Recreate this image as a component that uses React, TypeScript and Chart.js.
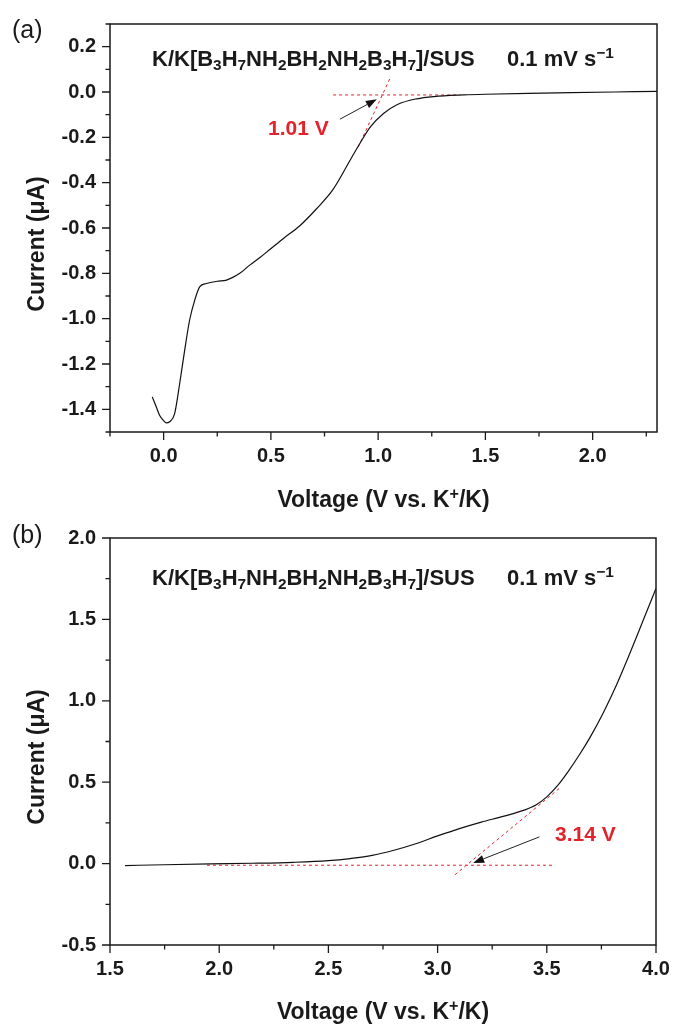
import React, { useEffect, useRef } from 'react';
import { Chart, registerables } from 'chart.js';
Chart.register(...registerables);

// ---------- data: panel (a) ----------
const voltageA = [-0.053, -0.034, -0.019, 0.0, 0.012, 0.028, 0.051, 0.075, 0.098, 0.121, 0.145, 0.168, 0.2, 0.25, 0.293, 0.355, 0.4, 0.449, 0.495, 0.56, 0.635, 0.713, 0.79, 0.87, 0.916, 0.963, 1.025, 1.09, 1.18, 1.26, 1.4, 1.5, 1.7, 1.9, 2.1, 2.3];
const currentA = [-1.345, -1.39, -1.426, -1.45, -1.46, -1.455, -1.42, -1.285, -1.14, -1.007, -0.918, -0.86, -0.845, -0.835, -0.83, -0.8, -0.765, -0.73, -0.695, -0.645, -0.59, -0.515, -0.43, -0.3, -0.225, -0.155, -0.095, -0.055, -0.03, -0.02, -0.013, -0.01, -0.006, -0.003, 0.0, 0.003];
const baselineAX = [0.79, 1.38];
const baselineAY = [-0.013, -0.013];
const tangentAX = [0.907, 1.056];
const tangentAY = [-0.243, 0.062];
const arrowAX = [0.822, 0.994];
const arrowAY = [-0.12, -0.032];
const ticksAX = [0.0, 0.5, 1.0, 1.5, 2.0];
const ticksAY = [-1.4, -1.2, -1.0, -0.8, -0.6, -0.4, -0.2, 0.0, 0.2];
const onsetA = '1.01 V';

// ---------- data: panel (b) ----------
const voltageB = [1.569, 1.75, 1.96, 2.15, 2.34, 2.5, 2.6, 2.7, 2.8, 2.9, 3.0, 3.1, 3.2, 3.3, 3.4, 3.45, 3.5, 3.55, 3.6, 3.65, 3.7, 3.76, 3.82, 3.88, 3.94, 4.0];
const currentB = [-0.012, -0.007, -0.002, 0.002, 0.008, 0.018, 0.031, 0.05, 0.082, 0.122, 0.17, 0.215, 0.255, 0.29, 0.33, 0.36, 0.41, 0.48, 0.57, 0.67, 0.78, 0.93, 1.1, 1.29, 1.49, 1.69];
const baselineBX = [1.944, 3.528];
const baselineBY = [-0.01, -0.01];
const tangentBX = [3.08, 3.56];
const tangentBY = [-0.068, 0.465];
const arrowBX = [3.466, 3.163];
const arrowBY = [0.164, 0.004];
const ticksBX = [1.5, 2.0, 2.5, 3.0, 3.5, 4.0];
const ticksBY = [-0.5, 0.0, 0.5, 1.0, 1.5, 2.0];
const onsetB = '3.14 V';

// ---------- text ----------
type Seg = { t: string; m?: 'sub' | 'sup' };
const titleSegs: Seg[] = [
  { t: 'K/K[B' }, { t: '3', m: 'sub' }, { t: 'H' }, { t: '7', m: 'sub' }, { t: 'NH' }, { t: '2', m: 'sub' },
  { t: 'BH' }, { t: '2', m: 'sub' }, { t: 'NH' }, { t: '2', m: 'sub' }, { t: 'B' }, { t: '3', m: 'sub' },
  { t: 'H' }, { t: '7', m: 'sub' }, { t: ']/SUS' },
];
const rateSegs: Seg[] = [{ t: '0.1 mV s' }, { t: '\u22121', m: 'sup' }];
const xTitleSegs: Seg[] = [{ t: 'Voltage (V vs. K' }, { t: '+', m: 'sup' }, { t: '/K)' }];
const yTitleSegs: Seg[] = [{ t: 'Current (\u03bcA)' }];

const FAMILY = '"Liberation Sans", Arial, Helvetica, sans-serif';
const RED = '#e3232b';
const INK = '#1a1a1a';
const W = 675;

function fontFor(size: number, bold: boolean, m?: string) {
  const s = m ? size * 0.7 : size;
  return `${bold ? 'bold ' : ''}${s}px ${FAMILY}`;
}
function richWidth(ctx: CanvasRenderingContext2D, segs: Seg[], size: number, bold: boolean) {
  let w = 0;
  for (const s of segs) {
    ctx.font = fontFor(size, bold, s.m);
    w += ctx.measureText(s.t).width;
  }
  return w;
}
function drawRich(ctx: CanvasRenderingContext2D, segs: Seg[], x: number, y: number, size: number, bold: boolean) {
  ctx.textBaseline = 'alphabetic';
  ctx.textAlign = 'left';
  let cx = x;
  for (const s of segs) {
    ctx.font = fontFor(size, bold, s.m);
    const dy = s.m === 'sub' ? size * 0.17 : s.m === 'sup' ? -size * 0.36 : 0;
    ctx.fillText(s.t, cx, y + dy);
    cx += ctx.measureText(s.t).width;
  }
}

type Panel = {
  height: number;
  area: { left: number; top: number; right: number; bottom: number };
  xMin: number; xMax: number; yMin: number; yMax: number;
  xTicks: number[]; yTicks: number[]; xMinorStep: number; yMinorStep: number;
  curveX: number[]; curveY: number[];
  baseX: number[]; baseY: number[]; tanX: number[]; tanY: number[];
  arrX: number[]; arrY: number[];
  onset: string; onsetAt: [number, number];
  label: string; labelY: number;
  titleY: number; rateX: number; xTitleY: number; yTitleCenter: number;
};

const panelA: Panel = {
  height: 520,
  area: { left: 110, top: 24, right: 657, bottom: 432 },
  xMin: -0.25, xMax: 2.3, yMin: -1.5, yMax: 0.3,
  xTicks: ticksAX, yTicks: ticksAY, xMinorStep: 0.25, yMinorStep: 0.1,
  curveX: voltageA, curveY: currentA,
  baseX: baselineAX, baseY: baselineAY, tanX: tangentAX, tanY: tangentAY,
  arrX: arrowAX, arrY: arrowAY,
  onset: onsetA, onsetAt: [0.487, -0.19],
  label: '(a)', labelY: 38,
  titleY: 66, rateX: 507, xTitleY: 507, yTitleCenter: 244,
};

const panelB: Panel = {
  height: 518,
  area: { left: 110, top: 28, right: 656, bottom: 435 },
  xMin: 1.5, xMax: 4.0, yMin: -0.5, yMax: 2.0,
  xTicks: ticksBX, yTicks: ticksBY, xMinorStep: 0.25, yMinorStep: 0.25,
  curveX: voltageB, curveY: currentB,
  baseX: baselineBX, baseY: baselineBY, tanX: tangentBX, tanY: tangentBY,
  arrX: arrowBX, arrY: arrowBY,
  onset: onsetB, onsetAt: [3.538, 0.137],
  label: '(b)', labelY: 33,
  titleY: 75, rateX: 507, xTitleY: 509, yTitleCenter: 247,
};

function minorValues(min: number, max: number, step: number) {
  const out: number[] = [];
  const start = Math.ceil(min / step - 1e-6);
  const end = Math.floor(max / step + 1e-6);
  for (let i = start; i <= end; i++) out.push(i * step);
  return out;
}

function makeDecor(p: Panel) {
  return {
    id: 'decor',
    afterDraw(chart: any) {
      const ctx: CanvasRenderingContext2D = chart.ctx;
      const xs = chart.scales.x;
      const ys = chart.scales.y;
      const a = chart.chartArea;
      ctx.save();
      // frame
      ctx.strokeStyle = INK;
      ctx.lineWidth = 1.5;
      ctx.strokeRect(a.left, a.top, a.right - a.left, a.bottom - a.top);
      // ticks
      ctx.lineWidth = 1.3;
      ctx.beginPath();
      for (const v of minorValues(p.xMin, p.xMax, p.xMinorStep)) {
        const isMajor = p.xTicks.some((t) => Math.abs(t - v) < 1e-6);
        const px = xs.getPixelForValue(v);
        ctx.moveTo(px, a.bottom);
        ctx.lineTo(px, a.bottom + (isMajor ? 8 : 4.5));
      }
      for (const v of minorValues(p.yMin, p.yMax, p.yMinorStep)) {
        const isMajor = p.yTicks.some((t) => Math.abs(t - v) < 1e-6);
        const py = ys.getPixelForValue(v);
        ctx.moveTo(a.left, py);
        ctx.lineTo(a.left - (isMajor ? 8 : 4.5), py);
      }
      ctx.stroke();

      ctx.fillStyle = INK;
      // chart title
      drawRich(ctx, titleSegs, 152, p.titleY, 22, true);
      drawRich(ctx, rateSegs, p.rateX, p.titleY, 22, true);
      // x title
      const xw = richWidth(ctx, xTitleSegs, 23, true);
      drawRich(ctx, xTitleSegs, (a.left + a.right) / 2 - xw / 2, p.xTitleY, 23, true);
      // y title
      const yw = richWidth(ctx, yTitleSegs, 23, true);
      ctx.save();
      ctx.translate(44, p.yTitleCenter);
      ctx.rotate(-Math.PI / 2);
      drawRich(ctx, yTitleSegs, -yw / 2, 0, 23, true);
      ctx.restore();
      // panel label
      ctx.font = `25px ${FAMILY}`;
      ctx.textBaseline = 'alphabetic';
      ctx.textAlign = 'left';
      ctx.fillText(p.label, 12, p.labelY);

      // arrow
      const x1 = xs.getPixelForValue(p.arrX[0]);
      const y1 = ys.getPixelForValue(p.arrY[0]);
      const x2 = xs.getPixelForValue(p.arrX[1]);
      const y2 = ys.getPixelForValue(p.arrY[1]);
      const ang = Math.atan2(y2 - y1, x2 - x1);
      const hl = 11, hw = 4;
      ctx.strokeStyle = '#222';
      ctx.lineWidth = 1;
      ctx.beginPath();
      ctx.moveTo(x1, y1);
      ctx.lineTo(x2 - hl * Math.cos(ang), y2 - hl * Math.sin(ang));
      ctx.stroke();
      ctx.fillStyle = '#111';
      ctx.beginPath();
      ctx.moveTo(x2, y2);
      ctx.lineTo(x2 - hl * Math.cos(ang) + hw * Math.sin(ang), y2 - hl * Math.sin(ang) - hw * Math.cos(ang));
      ctx.lineTo(x2 - hl * Math.cos(ang) - hw * Math.sin(ang), y2 - hl * Math.sin(ang) + hw * Math.cos(ang));
      ctx.closePath();
      ctx.fill();

      // onset label
      ctx.fillStyle = RED;
      ctx.font = `bold 21px ${FAMILY}`;
      ctx.fillText(p.onset, xs.getPixelForValue(p.onsetAt[0]), ys.getPixelForValue(p.onsetAt[1]));
      ctx.restore();
    },
  };
}

function makeChart(canvas: HTMLCanvasElement, p: Panel) {
  const pts = (xs: number[], ys: number[]) => xs.map((x, i) => ({ x, y: ys[i] }));
  const tickFont = { family: FAMILY, size: 20, weight: 'bold' as const };
  return new Chart(canvas, {
    type: 'line',
    data: {
      datasets: [
        {
          data: pts(p.curveX, p.curveY),
          borderColor: '#111',
          borderWidth: 1.2,
          pointRadius: 0,
          cubicInterpolationMode: 'monotone',
          fill: false,
        },
        {
          data: pts(p.baseX, p.baseY),
          borderColor: RED,
          borderWidth: 1,
          borderDash: [3, 3],
          pointRadius: 0,
          fill: false,
        },
        {
          data: pts(p.tanX, p.tanY),
          borderColor: RED,
          borderWidth: 1,
          borderDash: [3, 3],
          pointRadius: 0,
          fill: false,
        },
      ],
    },
    options: {
      animation: false,
      responsive: false,
      maintainAspectRatio: false,
      events: [],
      layout: { padding: { left: 0, top: p.area.top, right: W - p.area.right, bottom: 0 } },
      plugins: { legend: { display: false }, tooltip: { enabled: false }, title: { display: false } },
      scales: {
        x: {
          type: 'linear',
          min: p.xMin,
          max: p.xMax,
          grid: { display: false, drawTicks: false },
          border: { display: false },
          afterBuildTicks: (s: any) => { s.ticks = p.xTicks.map((v) => ({ value: v })); },
          ticks: {
            font: tickFont, color: INK, padding: 12, maxRotation: 0, autoSkip: false,
            callback: (v: any) => Number(v).toFixed(1),
          },
          afterFit: (s: any) => { s.height = p.height - p.area.bottom; s.paddingLeft = 0; s.paddingRight = 0; },
        },
        y: {
          type: 'linear',
          min: p.yMin,
          max: p.yMax,
          grid: { display: false, drawTicks: false },
          border: { display: false },
          afterBuildTicks: (s: any) => { s.ticks = p.yTicks.map((v) => ({ value: v })); },
          ticks: {
            font: tickFont, color: INK, padding: 14, autoSkip: false,
            callback: (v: any) => Number(v).toFixed(1),
          },
          afterFit: (s: any) => { s.width = p.area.left; s.paddingTop = 0; s.paddingBottom = 0; },
        },
      },
    } as any,
    plugins: [makeDecor(p)],
  });
}

function PanelCanvas({ p, top }: { p: Panel; top: number }) {
  const ref = useRef<HTMLCanvasElement>(null);
  useEffect(() => {
    if (!ref.current) return;
    const c = makeChart(ref.current, p);
    return () => c.destroy();
  }, [p]);
  return (
    <canvas
      ref={ref}
      width={W}
      height={p.height}
      style={{ position: 'absolute', left: 0, top, width: W, height: p.height }}
    />
  );
}

export default function App() {
  return (
    <div style={{ position: 'absolute', left: 0, top: 0, width: W, height: 1028, background: '#fff', overflow: 'hidden' }}>
      <PanelCanvas p={panelA} top={0} />
      <PanelCanvas p={panelB} top={510} />
    </div>
  );
}
